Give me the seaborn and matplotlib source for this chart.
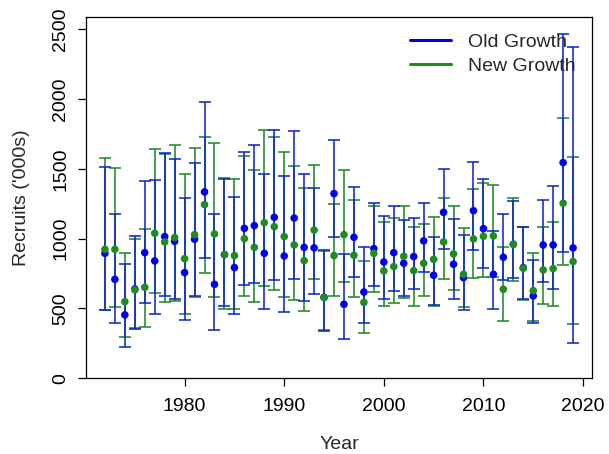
import matplotlib
matplotlib.use("Agg")
import matplotlib.pyplot as plt
from matplotlib.lines import Line2D
import numpy as np
import pandas as pd
import seaborn as sns

years = list(range(1972, 2020))

old_mean = [895, 709, 454, 640, 900, 841, 1015, 981, 757, 996, 1335, 673, 886, 793,
            1074, 1094, 895, 1153, 876, 1148, 938, 934, 580, 1323, 530, 1010, 618, 929,
            833, 900, 824, 872, 984, 738, 1189, 817, 721, 1201, 1072, 745, 867, 960,
            793, 590, 955, 955, 1545, 934]
old_lo = [490, 399, 222, 351, 537, 458, 590, 568, 418, 592, 864, 346, 521, 458,
          666, 681, 497, 704, 475, 714, 554, 607, 337, 1010, 282, 726, 394, 661,
          571, 628, 592, 640, 762, 525, 927, 568, 490, 919, 788, 497, 704, 716,
          568, 394, 692, 638, 903, 256]
old_hi = [1516, 1180, 817, 1022, 1414, 1421, 1616, 1569, 1294, 1545, 1977, 1180, 1428, 1301,
          1621, 1669, 1461, 1779, 1452, 1772, 1466, 1366, 919, 1707, 891, 1368, 941, 1256,
          1163, 1234, 1134, 1149, 1258, 1010, 1497, 1141, 1024, 1547, 1428, 1058, 1175, 1273,
          1082, 848, 1277, 1378, 2464, 2376]

new_mean = [924, 924, 549, 633, 652, 1039, 977, 1008, 857, 1029, 1244, 1034, 886, 879,
            1000, 938, 1115, 1086, 1015, 955, 843, 1062, 578, 879, 1029, 881, 544, 895,
            769, 800, 874, 771, 824, 852, 977, 891, 745, 998, 1017, 1020, 638, 960,
            788, 628, 776, 786, 1254, 836]
new_lo = [490, 513, 298, 363, 370, 609, 547, 555, 461, 580, 757, 585, 497, 497,
          592, 547, 661, 635, 580, 561, 485, 714, 345, 592, 692, 583, 327, 616,
          516, 542, 573, 516, 590, 518, 712, 635, 510, 716, 728, 728, 411, 697,
          561, 413, 532, 518, 812, 389]
new_hi = [1581, 1504, 895, 1000, 1072, 1645, 1607, 1669, 1466, 1647, 1730, 1688, 1437, 1428,
          1595, 1492, 1779, 1731, 1619, 1523, 1366, 1530, 910, 1246, 1490, 1275, 838, 1237,
          1117, 1146, 1234, 1086, 1106, 1153, 1294, 1237, 1077, 1354, 1397, 1385, 943, 1289,
          1086, 895, 1082, 1122, 1862, 1585]

series_names = ["Old Growth", "New Growth"]
point_colors = {"Old Growth": "#0000EE", "New Growth": "#1E8C1E"}
bar_colors = {"Old Growth": "#1028C8", "New Growth": "#22882A"}

df = pd.concat([
    pd.DataFrame({"Year": years, "Recruits": old_mean, "lo": old_lo, "hi": old_hi,
                  "Series": "Old Growth"}),
    pd.DataFrame({"Year": years, "Recruits": new_mean, "lo": new_lo, "hi": new_hi,
                  "Series": "New Growth"}),
], ignore_index=True)

sns.set_style("white")
plt.rcParams["font.family"] = ["Liberation Sans", "DejaVu Sans"]

fig = plt.figure(figsize=(6.09, 4.54), dpi=100)
ax = fig.add_axes([86 / 609, 1 - 378.3 / 454, (592 - 86) / 609, (378.3 - 17) / 454])

# interval bars: green first, blue over it
for name, z in [("New Growth", 2), ("Old Growth", 3)]:
    d = df[df["Series"] == name]
    ax.errorbar(d["Year"], d["Recruits"],
                yerr=[d["Recruits"] - d["lo"], d["hi"] - d["Recruits"]],
                fmt="none", ecolor=bar_colors[name], elinewidth=1.15,
                capsize=4.6, capthick=1.15, zorder=z)

# point estimates: blue first, green on top
for name, z in [("Old Growth", 4), ("New Growth", 5)]:
    sns.scatterplot(data=df[df["Series"] == name], x="Year", y="Recruits",
                    color=point_colors[name], s=30, edgecolor="none",
                    ax=ax, zorder=z, legend=False)

ax.set_xlim(1970.1, 2020.9)
ax.set_ylim(0, 2588)
ax.set_xticks([1980, 1990, 2000, 2010, 2020])
ax.set_yticks([0, 500, 1000, 1500, 2000, 2500])

for s in ax.spines.values():
    s.set_visible(True)
    s.set_color("black")
    s.set_linewidth(0.9)

ax.tick_params(axis="both", which="major", direction="out", length=6, width=0.9,
               color="black", labelsize=14, labelcolor="black",
               bottom=True, left=True, top=False, right=False)
ax.tick_params(axis="x", pad=8)
ax.tick_params(axis="y", pad=6)
for lab in ax.get_yticklabels():
    lab.set_rotation(90)
    lab.set_verticalalignment("center")

ax.set_xlabel("Year", fontsize=14, labelpad=15)
ax.set_ylabel("Recruits ('000s)", fontsize=14, labelpad=16)

handles = [Line2D([], [], color=point_colors[n], lw=2.2) for n in series_names]
ax.legend(handles, series_names, loc="upper left", bbox_to_anchor=(0.64, 0.955),
          frameon=False, fontsize=14, handlelength=2.1, handletextpad=0.9,
          labelspacing=0.35, borderaxespad=0, borderpad=0)

fig.savefig("out.png", dpi=100)
